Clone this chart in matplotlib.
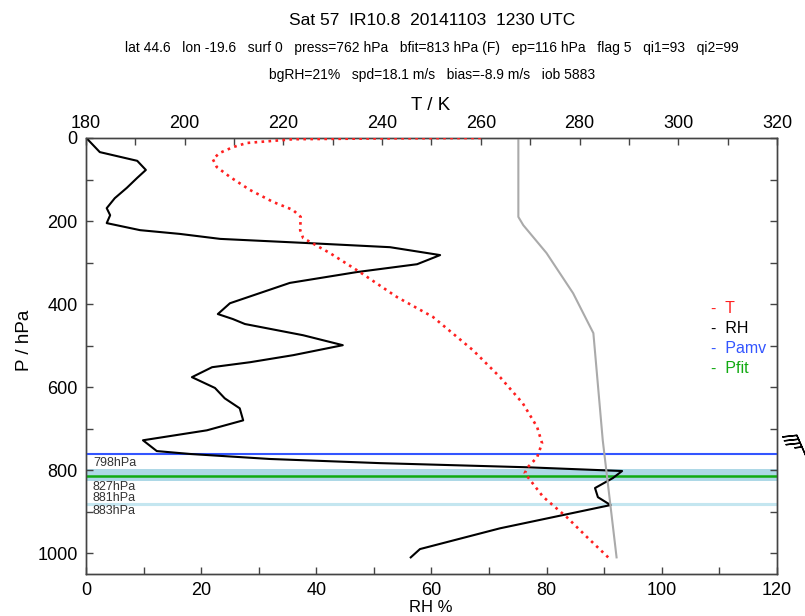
import numpy as np
import matplotlib
matplotlib.use("Agg")
import matplotlib.pyplot as plt

plt.rcParams['font.family'] = ['Liberation Sans', 'DejaVu Sans']

# relative humidity profile (%), on pressure levels (hPa)
rh_p = [2, 34, 55, 77, 96, 120, 145, 169, 186, 205, 222, 231, 243, 253, 263, 282,
        304, 323, 349, 398, 424, 436, 448, 475, 499, 523, 540, 552, 576, 602, 627,
        651, 680, 704, 728, 754, 761, 773, 783, 793, 802, 819, 843, 865, 884, 940,
        990, 1010]
rh = [0.2, 2.4, 8.9, 10.4, 8.9, 7.1, 5.0, 3.6, 4.2, 3.6, 9.4, 16.3, 23.3, 38.4,
      52.8, 61.5, 57.5, 47.0, 35.4, 25.0, 22.9, 25.5, 27.6, 37.7, 44.6, 36.0, 28.5,
      21.9, 18.4, 22.4, 24.1, 26.7, 27.3, 21.0, 9.9, 12.3, 18.1, 31.9, 51.0, 76.6,
      93.1, 91.5, 88.4, 88.9, 91.1, 71.9, 58.0, 56.4]

# temperature profile (K)
t_p = [0, 1, 3, 12, 22, 36, 51, 70, 94, 125, 154, 173, 190, 222, 241, 277, 323,
       383, 431, 511, 576, 639, 696, 735, 769, 793, 807, 864, 913, 961, 1010]
temp = [260, 240, 222, 212.6, 209.8, 207.1, 205.7, 206.5, 209.2, 213.2, 217.9,
        221.9, 223.5, 223.4, 224.0, 229.4, 235.5, 243.0, 250.3, 258.4, 263.9,
        268.5, 271.4, 272.4, 271.4, 269.5, 268.9, 272.6, 277.4, 281.5, 285.8]

# grey reference profile (K)
g_p = [0, 190, 210, 277, 374, 470, 728, 1010]
g_t = [267.6, 267.6, 268.6, 273.3, 278.7, 282.8, 284.7, 287.5]

p_amv = 762
p_fit = 813
band = (798, 827)
p_lines = (881, 883)

# wind at the AMV level
wind_u, wind_v = 14.0, -32.0

title = "Sat 57  IR10.8  20141103  1230 UTC"
line1 = ("lat 44.6   lon -19.6   surf 0   press=762 hPa   bfit=813 hPa (F)   "
         "ep=116 hPa   flag 5   qi1=93   qi2=99")
line2 = "bgRH=21%   spd=18.1 m/s   bias=-8.9 m/s   iob 5883"

fig = plt.figure(figsize=(8.05, 6.16), dpi=100)
ax = fig.add_axes([0.1068, 0.0682, 0.8584, 0.7078])
ax2 = ax.twiny()

ax.axhspan(band[0], band[1], color='#add8e6', lw=0, zorder=1)
for p in p_lines:
    ax.axhline(p, color='#c4e6f0', lw=1.5, zorder=1)
ax.axhline(p_amv, color='#3355ff', lw=1.5, zorder=3)
ax.axhline(p_fit, color='#11aa11', lw=1.8, zorder=3)

ax.plot(rh, rh_p, color='black', lw=1.5, zorder=4)
ax2.plot(g_t, g_p, color='#aaaaaa', lw=1.5, zorder=2)
ax2.plot(temp, t_p, color='#ff2020', lw=1.9, ls=':', zorder=5)

tc = '#333333'
ax.text(1.2, band[0], "%dhPa" % band[0], fontsize=9, color=tc, va='bottom')
ax.text(1.2, band[1], "%dhPa" % band[1], fontsize=9, color=tc, va='top')
ax.text(1.2, p_lines[0], "%dhPa" % p_lines[0], fontsize=9, color=tc, va='bottom')
ax.text(1.2, p_lines[1], "%dhPa" % p_lines[1], fontsize=9, color=tc, va='top')

# legend as coloured text
for i, (lab, col) in enumerate([("T", '#ff2020'), ("RH", 'black'),
                                 ("Pamv", '#3355ff'), ("Pfit", '#11aa11')]):
    ax.text(108.5, 410 + i * 48, "-  " + lab, color=col, fontsize=11.5, va='center')

ax.barbs([125.8], [790], [wind_u], [wind_v], length=7, lw=1, flip_barb=True,
         clip_on=False, zorder=6)

ax.set_xlim(0, 120)
ax.set_ylim(1050, 0)
ax2.set_xlim(180, 320)
ax2.set_ylim(1050, 0)

ax.set_xticks(np.arange(0, 121, 20))
ax.set_xticks(np.arange(0, 121, 10), minor=True)
ax.set_yticks(np.arange(0, 1001, 200))
ax.set_yticks(np.arange(0, 1001, 100), minor=True)
ax2.set_xticks(np.arange(180, 321, 20))
ax2.set_xticks(np.arange(180, 321, 10), minor=True)

for a in (ax, ax2):
    a.tick_params(which='both', direction='in', length=5, width=1,
                  color='#444444', labelsize=13)
    for s in a.spines.values():
        s.set_color('#444444')
        s.set_linewidth(1)
ax.tick_params(which='both', bottom=True, top=False, left=True, right=True,
               labelright=False, pad=6)
ax2.tick_params(which='both', top=True, bottom=False, pad=4)

fig.text(0.537, 0.967, title, ha='center', va='center', fontsize=12.5)
fig.text(0.537, 0.922, line1, ha='center', va='center', fontsize=10)
fig.text(0.537, 0.878, line2, ha='center', va='center', fontsize=10)
fig.text(0.535, 0.829, "T / K", ha='center', va='center', fontsize=13.5)
fig.text(0.535, 0.013, "RH %", ha='center', va='center', fontsize=12)
fig.text(0.031, 0.448, "P / hPa", ha='center', va='center', rotation=90, fontsize=13.5)

fig.savefig("out.png", dpi=100)
